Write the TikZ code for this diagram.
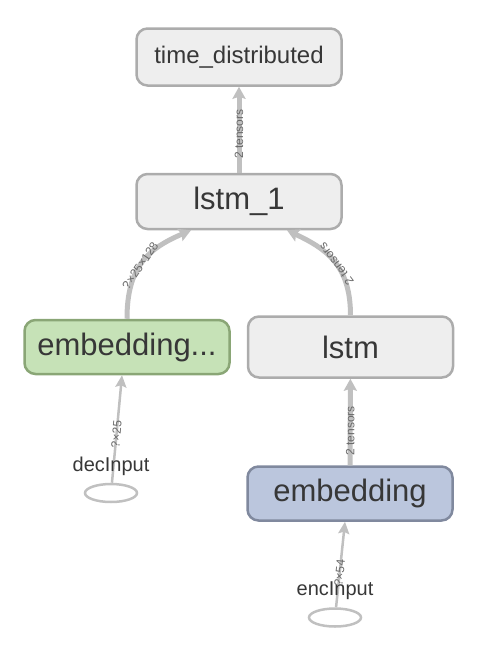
\documentclass[tikz,border=0pt]{standalone}
\usepackage{fontspec}
\setmainfont{Liberation Sans}
\usepackage{tikz}
\usetikzlibrary{arrows.meta,shapes,positioning}

\definecolor{nodefill}{RGB}{238,238,238}
\definecolor{nodeline}{RGB}{172,172,172}
\definecolor{greenfill}{RGB}{198,226,183}
\definecolor{greenline}{RGB}{138,166,118}
\definecolor{bluefill}{RGB}{187,198,221}
\definecolor{blueline}{RGB}{128,137,158}
\definecolor{flowgray}{RGB}{192,192,192}
\definecolor{textgray}{RGB}{55,55,55}
\definecolor{labelgray}{RGB}{105,105,105}

\begin{document}
\begin{tikzpicture}
[x=1pt,y=-1pt]
\tikzset{
	layer/.style = {rectangle, rounded corners=11pt, draw=nodeline, fill=nodefill, line width=2.5pt, minimum width=205pt, minimum height=55pt, text=textgray, font=\fontsize{31}{36}\selectfont},
	greenlayer/.style = {layer, draw=greenline, fill=greenfill},
	bluelayer/.style = {layer, draw=blueline, fill=bluefill},
	inport/.style = {ellipse, draw=flowgray, line width=2.5pt, minimum width=52pt, minimum height=18pt, inner sep=0},
	inlabel/.style = {inner sep=0, text=textgray, font=\fontsize{20}{24}\selectfont},
	bigflow/.style = {draw=flowgray, line width=5pt, -{Stealth[length=12pt,width=13pt,inset=2pt]}},
	smallflow/.style = {draw=flowgray, line width=2.5pt, -{Stealth[length=12pt,width=11pt,inset=2pt]}},
	elabel/.style = {sloped, inner sep=0, text=labelgray, font=\fontsize{12}{14}\selectfont}
}

\useasboundingbox (0,0) rectangle (489,649);

\node (td) [layer, minimum height=57pt, font=\fontsize{24}{28}\selectfont] at (239,57) {time\_distributed};
\node (lstmone) [layer] at (239,201.5) {lstm\_1};
\node (embdec) [greenlayer, minimum height=54pt] at (127,347) {embedding...};
\node (lstm) [layer, minimum height=61pt] at (350.5,347) {lstm};
\node (embenc) [bluelayer, minimum height=54pt] at (350,493.5) {embedding};
\node (decin) [inport] at (111,493) {};
\node (encin) [inport] at (335,617.5) {};

\draw [bigflow] (lstmone) -- (td) node [elabel, pos=0.45]{2 tensors};
\draw [bigflow] (embdec.north) .. controls +(0,-53) and +(-42,18) .. ([xshift=-48pt]lstmone.south) node [elabel, pos=0.45]{?×25×128};
\draw [bigflow] (lstm.north) .. controls +(0,-51) and +(38,18) .. ([xshift=48pt]lstmone.south) node [elabel, allow upside down, pos=0.45]{2 tensors};
\draw [bigflow] (embenc) -- (lstm) node [elabel, pos=0.4]{2 tensors};
\draw [smallflow] (decin) -- ([xshift=-5pt]embdec.south) node [elabel, pos=0.45]{?×25};
\draw [smallflow] (encin) -- ([xshift=-5pt]embenc.south) node [elabel, pos=0.4]{?×54};

\node (declbl) [inlabel, above=7pt of decin] {decInput};
\node (enclbl) [inlabel, above=7pt of encin] {encInput};
\end{tikzpicture}
\end{document}
